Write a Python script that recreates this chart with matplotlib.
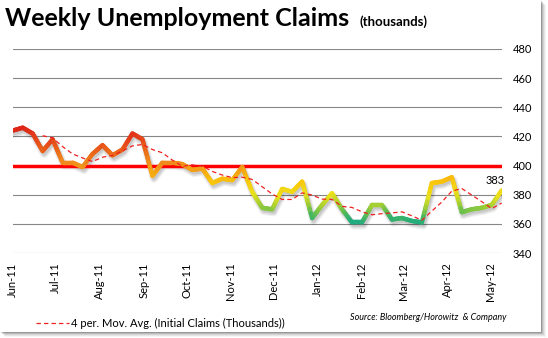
import numpy as np
import pandas as pd
import matplotlib
matplotlib.use('Agg')
import matplotlib.pyplot as plt
import matplotlib.dates as mdates
import matplotlib.transforms as mtransforms
from matplotlib.collections import LineCollection
from matplotlib.colors import LinearSegmentedColormap
from matplotlib.patches import Rectangle

# weekly initial claims (thousands)
claims = [424, 426, 422, 410, 418, 402, 402, 399, 408, 414, 407, 411, 422, 418, 393,
          402, 402, 401, 397, 398, 388, 391, 390, 399, 382, 371, 370,
          384, 382, 389, 364, 373, 381, 370, 361, 361, 373, 373, 363, 364, 362, 361,
          388, 389, 392, 368, 370, 371, 373, 383]
weeks = pd.date_range('2011-06-01', periods=len(claims), freq='7D')
mov_avg = pd.Series(claims).rolling(4).mean()
threshold = 400
y_ticks = [340, 360, 380, 400, 420, 440, 460, 480]
last_label = '383'

# colour by level: teal (low) -> yellow -> orange -> red (high)
lvl = [360, 366, 372, 380, 388, 395, 402, 410, 418, 426]
cols = ['#1aa985', '#4cb85c', '#9ccd36', '#ece11c', '#f9c80c', '#f6aa12',
        '#f08a1c', '#ea6419', '#e4421a', '#dd2518']
cmap = LinearSegmentedColormap.from_list(
    'lvl', [((v - lvl[0]) / (lvl[-1] - lvl[0]), c) for v, c in zip(lvl, cols)])

plt.rcParams['font.family'] = ['Lato', 'DejaVu Sans']

W, H = 548, 338
fig = plt.figure(figsize=(W / 100, H / 100), dpi=100)
fig.patch.set_facecolor('white')

# page with soft shadow on right / bottom
for k, a in [(5, 0.04), (4, 0.06), (3, 0.08), (2, 0.12), (1, 0.18)]:
    fig.patches.append(Rectangle((k / W, (6.3 - k) / H), 541 / W, 331.7 / H,
                                 transform=fig.transFigure, facecolor='k', alpha=a,
                                 edgecolor='none', zorder=-10))
fig.patches.append(Rectangle((0, 6.3 / H), 541 / W, 331.7 / H, transform=fig.transFigure,
                             facecolor='white', edgecolor='none', zorder=-9))

ax = fig.add_axes([12.7 / W, 1 - 253 / H, (501.7 - 12.7) / W, (253 - 49) / H])
ax.set_facecolor('none')

xn = mdates.date2num(weeks)

# shadow under the main line
for dx, dy, lw, a in [(1.5, -3, 6, 0.05), (1.5, -3, 4.5, 0.07), (1.5, -2.5, 3, 0.1)]:
    tr = mtransforms.offset_copy(ax.transData, fig=fig, x=dx, y=dy, units='dots')
    ax.plot(xn, claims, color='k', alpha=a, lw=lw, transform=tr,
            solid_joinstyle='round', solid_capstyle='round', zorder=2)

# gradient coloured line
segs, vals = [], []
for i in range(len(claims) - 1):
    xs = np.linspace(xn[i], xn[i + 1], 9)
    ys = np.linspace(claims[i], claims[i + 1], 9)
    for j in range(8):
        segs.append([(xs[j], ys[j]), (xs[j + 1], ys[j + 1])])
        vals.append((ys[j] + ys[j + 1]) / 2)
lc = LineCollection(segs, cmap=cmap, norm=plt.Normalize(lvl[0], lvl[-1]),
                    linewidths=3.2, capstyle='round', joinstyle='round', zorder=4)
lc.set_array(np.array(vals))
ax.add_collection(lc)

ax.axhline(threshold, color='#ff0000', lw=2.5, zorder=3)
ma_line, = ax.plot(xn, mov_avg, color='#f02020', lw=0.9, ls=(0, (3.5, 2.5)), zorder=5)

ax.annotate(last_label, (xn[-1], claims[-1]), xytext=(-5, 3), textcoords='offset points',
            ha='center', va='bottom', fontsize=8)

ax.set_xlim(xn[0], xn[-1])
ax.set_ylim(340, 480)
ax.set_yticks(y_ticks)
ax.yaxis.tick_right()
ax.grid(axis='y', color='#868686', lw=0.8, zorder=1)
ax.set_axisbelow(True)
for s in ax.spines.values():
    s.set_visible(False)
ax.xaxis.set_major_locator(mdates.MonthLocator())
ax.xaxis.set_major_formatter(mdates.DateFormatter('%b-%y'))
ax.tick_params(axis='x', length=0, pad=7, labelsize=8, labelrotation=90)
ax.tick_params(axis='y', length=0, pad=8, labelsize=8)

fig.text(5 / W, 1 - 26 / H, 'Weekly Unemployment Claims', fontweight='bold',
         fontsize=18, va='baseline', ha='left')
fig.text(360 / W, 1 - 26 / H, '(thousands)', fontweight='bold', fontsize=9.5,
         va='baseline', ha='left')

fig.legend(handles=[ma_line], labels=['4 per. Mov. Avg. (Initial Claims (Thousands))'],
           loc='center left', bbox_to_anchor=(30 / W, 1 - 323 / H), frameon=False,
           fontsize=8, handlelength=3, handletextpad=0.2, borderpad=0)
fig.text(507 / W, 1 - 318 / H, 'Source: Bloomberg/Horowitz  & Company', style='italic',
         fontsize=6.5, ha='right', va='center')

fig.savefig('out.png', dpi=100)
